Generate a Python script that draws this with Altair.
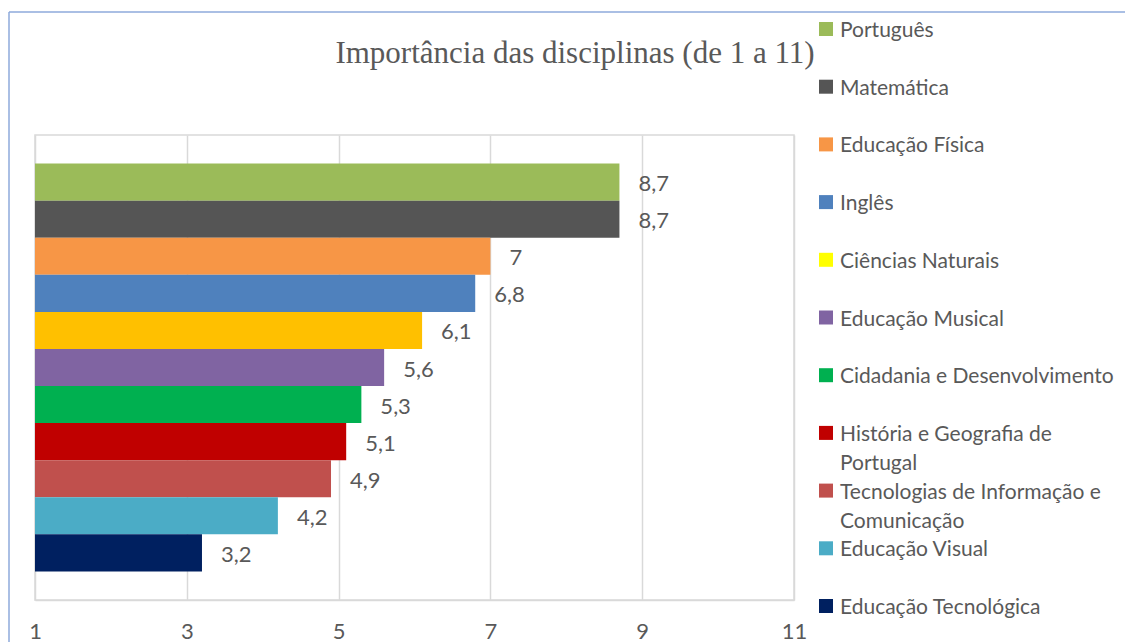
import altair as alt
import pandas as pd

disciplinas = [
    "Português", "Matemática", "Educação Física", "Inglês", "Ciências Naturais",
    "Educação Musical", "Cidadania e Desenvolvimento", "História e Geografia de Portugal",
    "Tecnologias de Informação e Comunicação", "Educação Visual", "Educação Tecnológica",
]
valores = [8.7, 8.7, 7, 6.8, 6.1, 5.6, 5.3, 5.1, 4.9, 4.2, 3.2]
rotulos_legenda = [
    "Português", "Matemática", "Educação Física", "Inglês", "Ciências Naturais",
    "Educação Musical", "Cidadania e Desenvolvimento", "História e Geografia de\nPortugal",
    " Tecnologias de Informação e\nComunicação", "Educação Visual", "Educação Tecnológica",
]
cores_barras = ["#9BBB59", "#555555", "#F79646", "#4F81BD", "#FFC000", "#8064A2",
                "#00B050", "#C00000", "#C0504D", "#4BACC6", "#002060"]
cores_legenda = ["#9BBB59", "#555555", "#F79646", "#4F81BD", "#FFFF00", "#8064A2",
                 "#00B050", "#C00000", "#C0504D", "#4BACC6", "#002060"]
marcas_eixo = [1, 3, 5, 7, 9, 11]
titulo = "Importância  das disciplinas (de 1 a 11)"

df = pd.DataFrame({
    "disciplina": disciplinas,
    "valor": valores,
    "rotulo": [f"{v:g}".replace(".", ",") for v in valores],
    "legenda": rotulos_legenda,
})

GREY = "#595959"
FONT = "Lato"
FS = 22
FS_LEG = 21

y_bar = alt.Y("disciplina:N", sort=disciplinas, axis=None,
              scale=alt.Scale(type="band", paddingInner=0, paddingOuter=0.77))
x_enc = alt.X("valor:Q", scale=alt.Scale(domain=[1, 11], nice=False, zero=False),
              axis=alt.Axis(values=marcas_eixo, format="d", title=None, ticks=False, grid=True,
                            gridColor="#D9D9D9", gridWidth=1.5, domainColor="#D9D9D9",
                            domainWidth=1.5, labelFont=FONT, labelFontSize=FS,
                            labelColor=GREY, labelPadding=21, labelFlush=False,
                            labelOverlap=False, labelBound=False))

bars = alt.Chart(df).mark_bar(opacity=1).encode(
    x=x_enc,
    x2=alt.datum(1),
    y=y_bar,
    color=alt.Color("disciplina:N", scale=alt.Scale(domain=disciplinas, range=cores_barras), legend=None),
)

labels = alt.Chart(df).mark_text(align="left", baseline="middle", dx=19, dy=2, font=FONT,
                                 fontSize=FS, color=GREY).encode(
    x="valor:Q", y=y_bar, text="rotulo:N")

y_leg = alt.Y("disciplina:N", sort=disciplinas, axis=None,
              scale=alt.Scale(type="point", range=[-106, 471], padding=0))

leg_sq = alt.Chart(df).mark_square(size=196, opacity=1).encode(
    x=alt.value(791), y=y_leg,
    color=alt.Color("disciplina:N", scale=alt.Scale(domain=disciplinas, range=cores_legenda), legend=None),
)
leg_txt = alt.Chart(df).mark_text(align="left", baseline="alphabetic", dy=8, font=FONT,
                                  fontSize=FS_LEG, color=GREY, lineBreak="\n", lineHeight=29).encode(
    x=alt.value(805), y=y_leg, text="legenda:N")

frame_df = pd.DataFrame({"titulo": [titulo]})
frame_v = alt.Chart(frame_df).mark_rule(color="#8EAADB", strokeWidth=1.5).encode(
    x=alt.value(-26), y=alt.value(-123), y2=alt.value(700))
frame_h = alt.Chart(frame_df).mark_rule(color="#8EAADB", strokeWidth=1.5).encode(
    x=alt.value(-26), x2=alt.value(1200), y=alt.value(-123))
title_txt = alt.Chart(frame_df).mark_text(font="Liberation Serif", fontSize=31, color=GREY,
                                          align="center", baseline="alphabetic").encode(
    x=alt.value(540), y=alt.value(-72), text="titulo:N")

main = alt.layer(bars, labels)
legend = alt.layer(leg_sq, leg_txt)

chart = alt.layer(frame_v, frame_h, title_txt, main, legend).resolve_scale(
    y="independent", color="independent"
).properties(
    width=759, height=465,
    autosize=alt.AutoSizeParams(type="none"),
    padding={"left": 27, "top": 127, "right": 331, "bottom": 42},
).configure_view(stroke="#D9D9D9", strokeWidth=1.5)

chart.save("out.html", embed_options={"renderer": "svg", "actions": False})
